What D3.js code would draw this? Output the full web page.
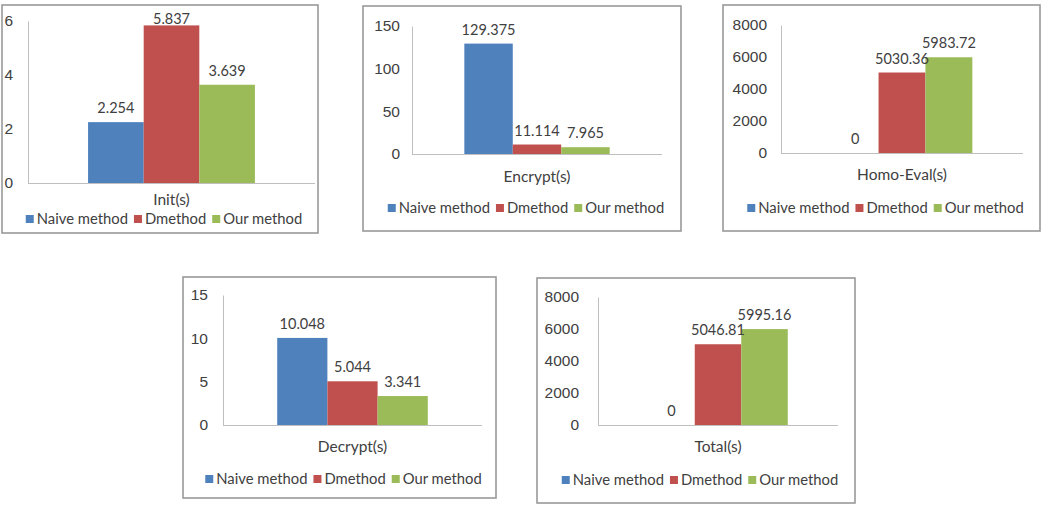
<!DOCTYPE html>
<html>
<head>
<meta charset="utf-8">
<script src="https://cdn.jsdelivr.net/npm/d3@7"></script>
<style>
  body { margin: 0; background: #fff; }
  svg { display: block; font-family: Lato, "Open Sans", sans-serif; }
  .domain { stroke: #bfbfbf; }
  .tick text { fill: #404040; font-size: 15.5px; }
</style>
</head>
<body>
<svg id="chart" width="1059" height="506"></svg>
<script>
// one panel per measured phase
var categories = ["Init(s)", "Encrypt(s)", "Homo-Eval(s)", "Decrypt(s)", "Total(s)"];
var series = ["Naive method", "Dmethod", "Our method"];
var naive   = [2.254, 129.375, 0, 10.048, 0];
var dmethod = [5.837, 11.114, 5030.36, 5.044, 5046.81];
var ours    = [3.639, 7.965, 5983.72, 3.341, 5995.16];
var yMax    = [6, 150, 8000, 15, 8000];
var yTicks  = [[0, 2, 4, 6], [0, 50, 100, 150], [0, 2000, 4000, 6000, 8000],
               [0, 5, 10, 15], [0, 2000, 4000, 6000, 8000]];

var colors = ["#4f81bd", "#c0504d", "#9bbb59"];

// layout of each framed panel (frame box, plot box, text baselines)
var panels = [
  {fx: 2,   fy: 5,   fw: 316, fh: 228, left: 28,  right: 315,  top: 21,  bottom: 183, pad: 15, catY: 205, legY: 224},
  {fx: 363, fy: 6,   fw: 318, fh: 225, left: 412, right: 662,  top: 26,  bottom: 154, pad: 12, catY: 182, legY: 213},
  {fx: 723, fy: 5,   fw: 317, fh: 226, left: 781, right: 1023, top: 25,  bottom: 153, pad: 14, catY: 180, legY: 213},
  {fx: 183, fy: 277, fw: 313, fh: 221, left: 223, right: 482,  top: 295, bottom: 425, pad: 15, catY: 452, legY: 484},
  {fx: 537, fy: 278, fw: 318, fh: 225, left: 598, right: 838,  top: 297, bottom: 425, pad: 19, catY: 452, legY: 485}
];

var svg = d3.select("#chart");
var textColor = "#404040";

panels.forEach(function(p, i) {
  var g = svg.append("g");
  var values = [naive[i], dmethod[i], ours[i]];

  g.append("rect")
    .attr("x", p.fx).attr("y", p.fy)
    .attr("width", p.fw).attr("height", p.fh)
    .attr("fill", "#fff")
    .attr("stroke", "#999").attr("stroke-width", 1.6);

  var y = d3.scaleLinear().domain([0, yMax[i]]).range([p.bottom, p.top]);
  var outer = d3.scaleBand().domain([categories[i]])
    .range([p.left, p.right]).paddingInner(0).paddingOuter(0.36);
  var x = d3.scaleBand().domain(series).range([outer(categories[i]), outer(categories[i]) + outer.bandwidth()]);

  g.append("g")
    .attr("transform", "translate(" + p.left + ",0)")
    .call(d3.axisLeft(y).tickValues(yTicks[i]).tickSize(0).tickPadding(p.pad).tickFormat(d3.format("d")));

  g.append("line")
    .attr("x1", p.left).attr("x2", p.right)
    .attr("y1", p.bottom + 0.5).attr("y2", p.bottom + 0.5)
    .attr("stroke", "#bfbfbf");

  g.selectAll("rect.bar").data(values).enter().append("rect")
    .attr("class", "bar")
    .attr("x", function(d, j) { return x(series[j]); })
    .attr("y", function(d) { return y(d); })
    .attr("width", x.bandwidth())
    .attr("height", function(d) { return p.bottom - y(d); })
    .attr("fill", function(d, j) { return colors[j]; });

  g.selectAll("text.val").data(values).enter().append("text")
    .attr("class", "val")
    .attr("x", function(d, j) { return x(series[j]) + x.bandwidth() / 2; })
    .attr("y", function(d) { return Math.max(y(d) - 9, p.fy + 19); })
    .attr("text-anchor", "middle")
    .attr("fill", textColor)
    .style("font-size", "14.5px")
    .text(function(d) { return String(d); });

  g.append("text")
    .attr("x", (p.left + p.right) / 2)
    .attr("y", p.catY)
    .attr("text-anchor", "middle")
    .attr("fill", textColor)
    .style("font-size", "15.5px")
    .text(categories[i]);

  // legend, centred a little right of the frame centre
  var leg = g.append("g");
  var cx = 0;
  series.forEach(function(s, j) {
    leg.append("rect")
      .attr("x", cx).attr("y", -9)
      .attr("width", 8).attr("height", 8)
      .attr("fill", colors[j]);
    var t = leg.append("text")
      .attr("x", cx + 11).attr("y", 0)
      .attr("fill", textColor)
      .style("font-size", "14.8px")
      .text(s);
    cx += 11 + t.node().getComputedTextLength() + 6;
  });
  var w = cx - 6;
  leg.attr("transform", "translate(" + (p.fx + p.fw / 2 + 4 - w / 2) + "," + p.legY + ")");
});
</script>
</body>
</html>
